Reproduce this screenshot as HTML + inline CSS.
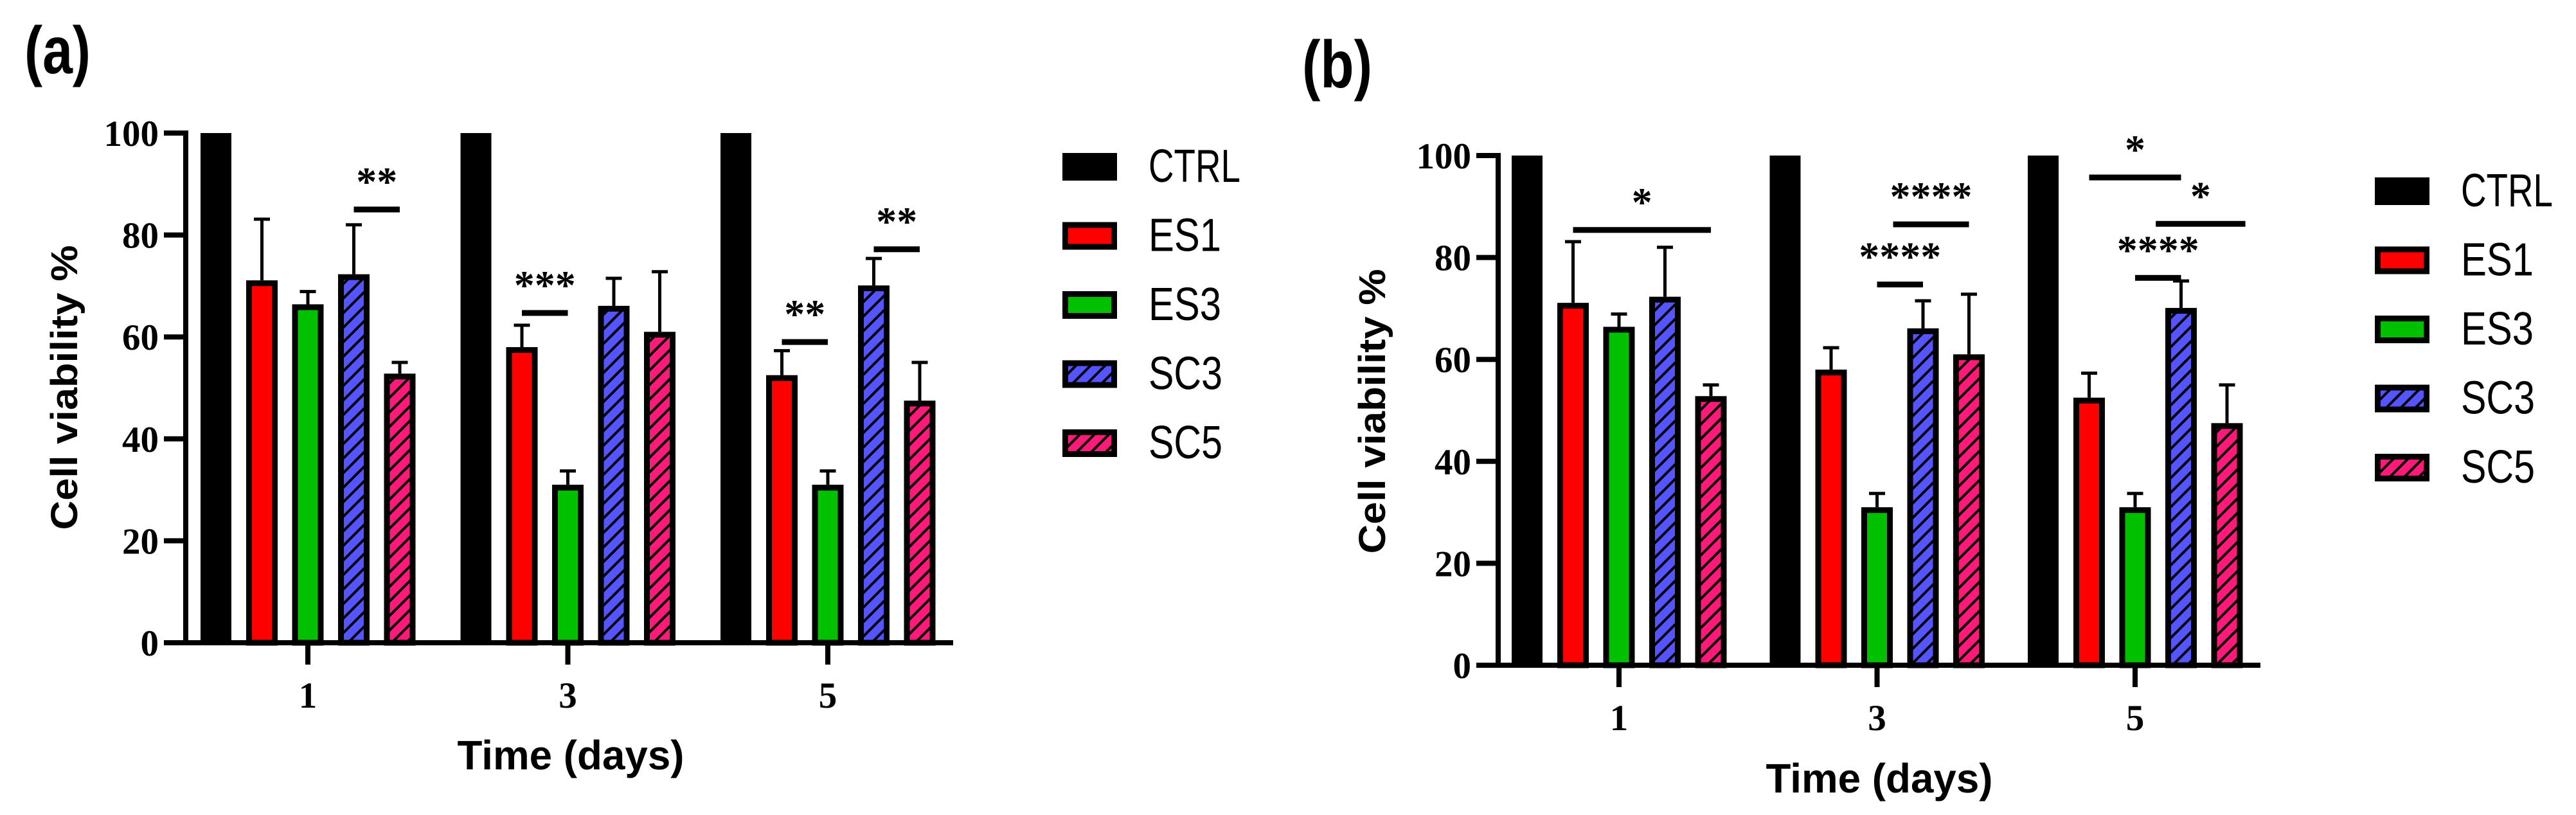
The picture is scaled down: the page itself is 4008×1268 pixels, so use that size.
<!DOCTYPE html>
<html><head><meta charset="utf-8">
<style>html,body{margin:0;padding:0;background:#fff;}svg{display:block;}</style>
</head><body>
<svg id="fig" xmlns="http://www.w3.org/2000/svg" width="4008" height="1268" viewBox="0 0 4008 1268">
<defs>
<pattern id="hatchBlue" patternUnits="userSpaceOnUse" width="16" height="16" patternTransform="rotate(45)">
<rect width="16" height="16" fill="#5555ff"/><rect width="4" height="16" fill="#000"/></pattern>
<pattern id="hatchPink" patternUnits="userSpaceOnUse" width="16" height="16" patternTransform="rotate(45)">
<rect width="16" height="16" fill="#ff1a7a"/><rect width="4" height="16" fill="#000"/></pattern>
</defs>
</svg>
<script>
const days = ['1','3','5'];
const seriesNames = ['CTRL','ES1','ES3','SC3','SC5'];
const ctrlVals = [100,100,100];
const es1Vals = [71.1,58,52.5];
const es3Vals = [66.4,31,31];
const sc3Vals = [72.3,66.1,70.1];
const sc5Vals = [52.8,61,47.5];
const ctrlErr = [100,100,100];
const es1Err = [83.1,62.3,57.3];
const es3Err = [68.9,33.7,33.7];
const sc3Err = [82,71.5,75.4];
const sc5Err = [55,72.8,55];
const yTicks = [0,20,40,60,80,100];
// significance: [group, fromBar, toBar, value, label]
const sigA = [[0,3,4,85,'**'],[1,1,2,64.7,'***'],[2,1,2,59,'**'],[2,3,4,77.2,'**']];
const sigB = [[0,1,4,85.4,'*'],[1,2,3,74.7,'****'],[1,2.35,4,86.5,'****'],[2,1,3,95.7,'*'],[2,2.45,4.4,86.6,'*'],[2,2,3,76,'****']];

const fills = ['#000','#ff0000','#00c000','url(#hatchBlue)','url(#hatchPink)'];
const vals = [ctrlVals,es1Vals,es3Vals,sc3Vals,sc5Vals];
const errs = [ctrlErr,es1Err,es3Err,sc3Err,sc5Err];
const svg = document.getElementById('fig');
const NS='http://www.w3.org/2000/svg';
function mk(tag,attrs,parent,txt){const e=document.createElementNS(NS,tag);for(const k in attrs)e.setAttribute(k,attrs[k]);if(txt!==undefined)e.textContent=txt;(parent||svg).appendChild(e);return e;}

function panel(cfg, sig){
  const g=mk('g',{});
  
  
  const y=v=>cfg.y0-(cfg.y0-cfg.y100)*v/100;
  const gx=i=>cfg.t0+i*cfg.gap;
  const bx=(i,j)=>gx(i)+(j-2)*71.5;
  for(let i=0;i<days.length;i++){
    for(let j=0;j<5;j++){
      const cx=bx(i,j), v=vals[j][i], e=errs[j][i];
      if(j>0){
        const eb=mk('path',{d:`M${cx},${y(v)} V${y(e)} M${cx-12.5},${y(e)} H${cx+12.5}`,stroke:'#000','stroke-width':5,fill:'none'},g);
        
        
      }
      let r;
      if(j===0) r=mk('rect',{x:cx-24,y:y(v),width:48,height:y(0)-y(v),fill:'#000'},g);
      else r=mk('rect',{x:cx-20,y:y(v)+4.5,width:40,height:y(0)-y(v)-4.5,fill:fills[j],stroke:'#000','stroke-width':9},g);
      
      
    }
  }
  const ax=mk('path',{d:`M${cfg.ax},${cfg.y100-4} V${cfg.y0} H${cfg.xEnd}`,stroke:'#000','stroke-width':8,fill:'none'},g);
  
  
  yTicks.forEach(t=>{
    mk('line',{x1:cfg.ax-34,x2:cfg.ax,y1:y(t),y2:y(t),stroke:'#000','stroke-width':8},g);
    const tl=mk('text',{x:cfg.ax-42,y:y(t)+20,'text-anchor':'end','font-family':'Liberation Serif, serif','font-weight':'bold','font-size':57},g,String(t));
    
    
  });
  days.forEach((d,i)=>{
    mk('line',{x1:gx(i),x2:gx(i),y1:cfg.y0,y2:cfg.y0+34,stroke:'#000','stroke-width':8},g);
    const tl=mk('text',{x:gx(i),y:cfg.y0+101,'text-anchor':'middle','font-family':'Liberation Serif, serif','font-weight':'bold','font-size':57},g,d);
    
    
  });
  sig.forEach(s=>{
    const x1=bx(s[0],s[1]), x2=bx(s[0],s[2]), yy=y(s[3]);
    mk('rect',{x:x1,y:yy-4.5,width:x2-x1,height:9,fill:'#000'},g);
    const st=mk('text',{x:(x1+x2)/2,y:yy-22,'text-anchor':'middle','font-family':'Liberation Serif, serif','font-weight':'bold','font-size':64},g,s[4]);
    
    
  });
  const xt=mk('text',{x:cfg.xtX,y:cfg.xtY,'text-anchor':'middle','font-family':'Liberation Sans, sans-serif','font-weight':'bold','font-size':64,textLength:353,lengthAdjust:'spacingAndGlyphs'},g,'Time (days)');
  
  
  const yt=mk('text',{x:0,y:0,transform:`translate(${cfg.ytX},${cfg.ytY}) rotate(-90)`,'text-anchor':'middle','font-family':'Liberation Sans, sans-serif','font-weight':'bold','font-size':58,textLength:443,lengthAdjust:'spacingAndGlyphs'},g,'Cell viability %');
  
  
  const pl=mk('text',{x:cfg.plX,y:cfg.plY,'font-family':'Liberation Sans, sans-serif','font-weight':'bold','font-size':104,textLength:cfg.plW,lengthAdjust:'spacingAndGlyphs'},g,cfg.label);
  
  
  seriesNames.forEach((n,j)=>{
    const ly=cfg.lgY+j*107.5;
    let r;
    if(j===0) r=mk('rect',{x:cfg.lgX,y:ly,width:85,height:43,fill:'#000'},g);
    else r=mk('rect',{x:cfg.lgX+4.5,y:ly+4.5,width:76,height:34,fill:fills[j],stroke:'#000','stroke-width':9},g);
    
    
    const w={CTRL:143,ES1:113,ES3:113,SC3:115,SC5:115}[n];
    const t=mk('text',{x:cfg.lgX+134,y:ly+45,'font-family':'Liberation Sans, sans-serif','font-size':72,textLength:w,lengthAdjust:'spacingAndGlyphs'},g,n);
    
    
  });
}
panel({name:'chart-a',label:'(a)',y0:1000,y100:207,t0:479,gap:404.5,ax:289,xEnd:1483,xtX:888,xtY:1197,ytX:120,ytY:603,plX:38,plY:114,plW:103,lgX:1653,lgY:238},sigA);
panel({name:'chart-b',label:'(b)',y0:1035,y100:242,t0:2519,gap:401.5,ax:2331,xEnd:3517,xtX:2924,xtY:1233,ytX:2155,ytY:640,plX:2026,plY:136,plW:109,lgX:3695,lgY:276},sigB);
</script>
</body></html>
